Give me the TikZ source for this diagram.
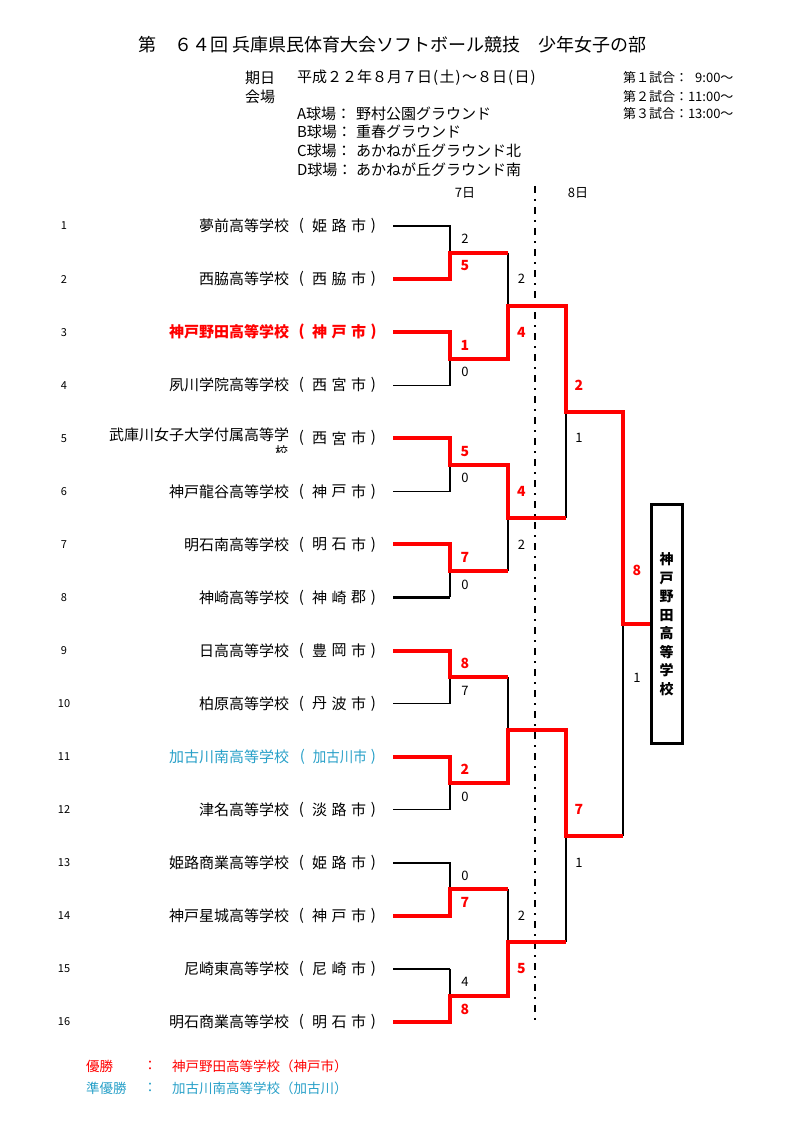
\documentclass[tikz,border=0pt]{standalone}
\usepackage{fontspec}
\usepackage{graphicx}
\setmainfont{Noto Sans CJK JP}
\definecolor{teamcyan}{RGB}{40,160,200}
\begin{document}
\begin{tikzpicture}[x=1pt,y=-1pt,
 every node/.style={inner sep=0pt,outer sep=0pt},
 titletxt/.style={font=\fontsize{18}{20}\selectfont},
 headtxt/.style={font=\fontsize{15}{18}\selectfont},
 timetxt/.style={font=\fontsize{13}{15}\selectfont},
 numtxt/.style={font=\fontsize{11}{13}\selectfont},
 nametxt/.style={font=\fontsize{15}{18}\selectfont, anchor=east},
 citytxt/.style={font=\fontsize{15}{18}\selectfont},
 legtxt/.style={font=\fontsize{13.5}{16}\selectfont},
 sc/.style={font=\fontsize{13}{15}\selectfont},
 scw/.style={font=\fontsize{14}{16}\selectfont\bfseries, text=red},
 lose/.style={draw=black, line width=1.3pt},
 losethick/.style={draw=black, line width=2.2pt},
 win/.style={draw=red, line width=4pt},
 dashdot/.style={draw=black, line width=2pt, dash pattern=on 7pt off 6pt on 2pt off 6pt},
 champbox/.style={draw=black, line width=3.3pt, minimum width=31pt, minimum height=239pt,
   align=center, font=\fontsize{14}{18.5}\selectfont\bfseries}
]
\useasboundingbox (0,0) rectangle (793,1123);

% ---------- header ----------
\node[titletxt, anchor=west] (title) at (138,45) {第　６４回 兵庫県民体育大会ソフトボール競技　少年女子の部};
\node[headtxt, anchor=west] (kijitsu) at (245,78) {期日};
\node[headtxt, anchor=west] (date) at (297,78) {平成２２年８月７日\makebox[7.5pt]{(}土\makebox[7.5pt]{)}～８日\makebox[7.5pt]{(}日\makebox[7.5pt]{)}};
\node[headtxt, anchor=west] (kaijo) at (245,97) {会場};
\node[headtxt, anchor=west] (vla) at (297,114) {A球場：};
\node[headtxt, anchor=west] (vna) at (356,114) {野村公園グラウンド};
\node[headtxt, anchor=west] (vlb) at (297,132) {B球場：};
\node[headtxt, anchor=west] (vnb) at (356,132) {重春グラウンド};
\node[headtxt, anchor=west] (vlc) at (297,151) {C球場：};
\node[headtxt, anchor=west] (vnc) at (356,151) {あかねが丘グラウンド北};
\node[headtxt, anchor=west] (vld) at (297,170) {D球場：};
\node[headtxt, anchor=west] (vnd) at (356,170) {あかねが丘グラウンド南};
\node[timetxt, anchor=west] (t1) at (623,78) {第１試合：\hphantom{1}9:00～};
\node[timetxt, anchor=west] (t2) at (623,97) {第２試合：11:00～};
\node[timetxt, anchor=west] (t3) at (623,114) {第３試合：13:00～};
\node[timetxt] (day7) at (465,193) {7日};
\node[timetxt] (day8) at (578,193) {8日};

% ---------- teams ----------
\foreach \i in {1,...,16}{
  \pgfmathsetmacro{\yy}{226+(\i-1)*53.07}
  \coordinate (T\i) at (393,\yy);
  \node[numtxt] (num\i) at (64,\yy) {\i};
}
\foreach \i/\nm/\ca/\cb/\cc in {1/夢前高等学校/姫/路/市, 2/西脇高等学校/西/脇/市,
  4/夙川学院高等学校/西/宮/市, 5//西/宮/市, 6/神戸龍谷高等学校/神/戸/市,
  7/明石南高等学校/明/石/市, 8/神崎高等学校/神/崎/郡, 9/日高高等学校/豊/岡/市,
  10/柏原高等学校/丹/波/市, 12/津名高等学校/淡/路/市, 13/姫路商業高等学校/姫/路/市,
  14/神戸星城高等学校/神/戸/市, 15/尼崎東高等学校/尼/崎/市, 16/明石商業高等学校/明/石/市}{
  \pgfmathsetmacro{\yy}{226+(\i-1)*53.07}
  \node[nametxt] (name\i) at (289,\yy) {\nm};
  \node[citytxt] (lp\i) at (301.5,\yy) {(};
  \node[citytxt] (ca\i) at (319.5,\yy) {\ca};
  \node[citytxt] (cb\i) at (339,\yy) {\cb};
  \node[citytxt] (cc\i) at (358.5,\yy) {\cc};
  \node[citytxt] (rp\i) at (373.5,\yy) {)};
}
% row 3 (champion)
\node[nametxt, text=red, font=\fontsize{15}{18}\selectfont\bfseries] (name3) at (289,332.14) {神戸野田高等学校};
\node[citytxt, text=red, font=\fontsize{15}{18}\selectfont\bfseries] (lp3) at (301.5,332.14) {(};
\node[citytxt, text=red, font=\fontsize{15}{18}\selectfont\bfseries] (ca3) at (319.5,332.14) {神};
\node[citytxt, text=red, font=\fontsize{15}{18}\selectfont\bfseries] (cb3) at (339,332.14) {戸};
\node[citytxt, text=red, font=\fontsize{15}{18}\selectfont\bfseries] (cc3) at (358.5,332.14) {市};
\node[citytxt, text=red, font=\fontsize{15}{18}\selectfont\bfseries] (rp3) at (373.5,332.14) {)};
% row 5 (wrapped name)
\node[nametxt] (name5) at (289,435) {武庫川女子大学付属高等学};
\begin{scope}
  \clip (270,444) rectangle (296,452.5);
  \node[font=\fontsize{13}{15}\selectfont] (name5b) at (281.5,452) {校};
\end{scope}
% row 11 (runner-up)
\node[nametxt, text=teamcyan] (name11) at (289,756.70) {加古川南高等学校};
\node[citytxt, text=teamcyan] (lp11) at (302.5,756.70) {(};
\node[citytxt, text=teamcyan] (city11) at (339.75,756.70) {\scalebox{0.9}[1]{加古川市}};
\node[citytxt, text=teamcyan] (rp11) at (373.5,756.70) {)};

% ---------- junctions ----------
\coordinate (J1a) at (450,252.54);
\coordinate (J1b) at (450,358.68);
\coordinate (J1c) at (450,464.82);
\coordinate (J1d) at (450,570.96);
\coordinate (J1e) at (450,677.10);
\coordinate (J1f) at (450,783.24);
\coordinate (J1g) at (450,889.38);
\coordinate (J1h) at (450,995.52);
\coordinate (J2a) at (508,305.61);
\coordinate (J2b) at (508,517.89);
\coordinate (J2c) at (508,730.17);
\coordinate (J2d) at (508,942.45);
\coordinate (J3a) at (566,411.75);
\coordinate (J3b) at (566,836.31);
\coordinate (J4) at (623,624.03);

% ---------- champion box ----------
\node[champbox] (champ) at (666.7,624.03) {神\\戸\\野\\田\\高\\等\\学\\校};

% ---------- day separator ----------
\coordinate (dtop) at (535,186);
\coordinate (dbot) at (535,1021);
\draw[dashdot] (dtop) -- (dbot);

% ---------- losing lines ----------
\draw[lose] (T1) -| (J1a);
\draw[lose] (T4) -| (J1b);
\draw[lose] (T6) -| (J1c);
\draw[losethick] (T8) -- (T8 -| J1d);
\draw[lose] (T8 -| J1d) -- (J1d);
\draw[lose] (T10) -| (J1e);
\draw[lose] (T12) -| (J1f);
\draw[lose] (T13) -| (J1g);
\draw[losethick] (T15) -- (T15 -| J1h);
\draw[lose] (T15 -| J1h) -- (J1h);
\draw[lose] (J1a -| J2a) -- (J2a);
\draw[lose] (J1d -| J2b) -- (J2b);
\draw[lose] (J1e -| J2c) -- (J2c);
\draw[lose] (J1g -| J2d) -- (J2d);
\draw[lose] (J2b -| J3a) -- (J3a);
\draw[lose] (J2d -| J3b) -- (J3b);
\draw[lose] (J3b -| J4) -- (J4);

% ---------- winning lines ----------
\draw[win] (T2) -| (J1a) -- (J1a -| J2a);
\draw[win] (T3) -| (J1b) -| (J2a) -| (J3a) -| (J4) -- ([xshift=-1.6pt]champ.west);
\draw[win] (T5) -| (J1c) -| (J2b) -- (J2b -| J3a);
\draw[win] (T7) -| (J1d) -- (J1d -| J2b);
\draw[win] (T9) -| (J1e) -- (J1e -| J2c);
\draw[win] (T11) -| (J1f) -| (J2c) -| (J3b) -- (J3b -| J4);
\draw[win] (T14) -| (J1g) -- (J1g -| J2d);
\draw[win] (T16) -| (J1h) -| (J2d) -- (J2d -| J3b);

% ---------- scores ----------
\node[sc]  (s1a) at (465,239.0) {2};
\node[scw] (s1b) at (465,266.0) {5};
\node[scw] (s2a) at (465,345.2) {1};
\node[sc]  (s2b) at (465,372.2) {0};
\node[scw] (s3a) at (465,451.3) {5};
\node[sc]  (s3b) at (465,478.3) {0};
\node[scw] (s4a) at (465,557.5) {7};
\node[sc]  (s4b) at (465,584.5) {0};
\node[scw] (s5a) at (465,663.6) {8};
\node[sc]  (s5b) at (465,690.6) {7};
\node[scw] (s6a) at (465,769.7) {2};
\node[sc]  (s6b) at (465,796.7) {0};
\node[sc]  (s7a) at (465,875.9) {0};
\node[scw] (s7b) at (465,902.9) {7};
\node[sc]  (s8a) at (465,982.0) {4};
\node[scw] (s8b) at (465,1009.0) {8};
\node[sc]  (r2aa) at (521.5,279.1) {2};
\node[scw] (r2ab) at (521.5,332.1) {4};
\node[scw] (r2ba) at (521.5,491.4) {4};
\node[sc]  (r2bb) at (521.5,544.4) {2};
\node[sc]  (r2da) at (521.5,916.0) {2};
\node[scw] (r2db) at (521.5,969.0) {5};
\node[scw] (r3aa) at (579,385.3) {2};
\node[sc]  (r3ab) at (579,438.3) {1};
\node[scw] (r3ba) at (579,809.8) {7};
\node[sc]  (r3bb) at (579,862.8) {1};
\node[scw] (fa) at (637,570.5) {8};
\node[sc]  (fb) at (637,677.5) {1};

% ---------- legend ----------
\node[legtxt, anchor=west, text=red] (win1) at (86,1066) {優勝};
\node[legtxt, text=red] (col1) at (150,1066) {：};
\node[legtxt, anchor=west, text=red] (win2) at (172,1066) {神戸野田高等学校（神戸市）};
\node[legtxt, anchor=west, text=teamcyan] (ru1) at (86,1088) {準優勝};
\node[legtxt, text=teamcyan] (col2) at (150,1088) {：};
\node[legtxt, anchor=west, text=teamcyan] (ru2) at (172,1088) {加古川南高等学校（加古川）};
\end{tikzpicture}
\end{document}
